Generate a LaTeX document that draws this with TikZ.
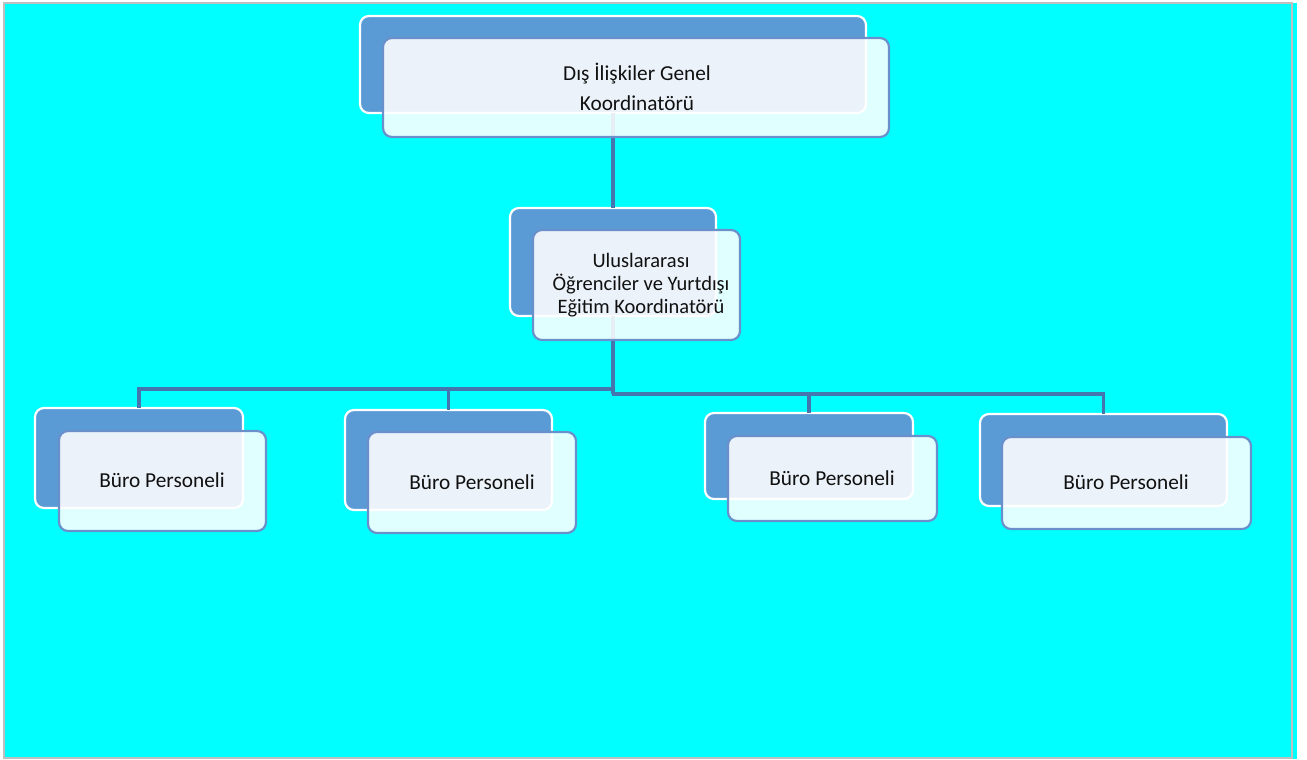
\documentclass[tikz,border=0pt]{standalone}
\usepackage{fontspec}
\setmainfont{Carlito}
\definecolor{bgcyan}{HTML}{00FFFF}
\definecolor{framegray}{HTML}{BFBFBF}
\definecolor{backblue}{HTML}{5B9BD5}
\definecolor{frontedge}{HTML}{6A90CC}
\definecolor{connblue}{HTML}{4676AE}
\definecolor{textblack}{HTML}{111111}
\begin{document}
\begin{tikzpicture}[x=1pt,y=-1pt,
  backbox/.style={draw=white, line width=2.2pt, fill=backblue, rounded corners=9pt, inner sep=0pt, outer sep=0pt},
  frontbox/.style={draw=frontedge, line width=2.2pt, fill=white, fill opacity=0.88, rounded corners=9pt, inner sep=0pt, outer sep=0pt},
  txt/.style={text=textblack, font=\fontsize{21.3}{23}\selectfont, align=center, inner sep=0pt},
  conn/.style={draw=connblue, line width=3.2pt}]
\useasboundingbox (0,0) rectangle (1307,760);
% page and frame
\fill[white] (0,0) rectangle (1307,760);
\fill[bgcyan] (4,3) rectangle (1297,759);
\draw[framegray, line width=2pt] (4,759) -- (4,3) -- (1291.5,3) -- (1291.5,758) -- (4,758);

% back boxes
\node[backbox, minimum width=506pt, minimum height=97pt] (topB) at (613,64.5) {};
\node[backbox, minimum width=206pt, minimum height=108pt] (midB) at (613,262) {};
\node[backbox, minimum width=208pt, minimum height=100pt] (b1B) at (139,458) {};
\node[backbox, minimum width=207pt, minimum height=100pt] (b2B) at (448.5,460) {};
\node[backbox, minimum width=208pt, minimum height=86pt] (b3B) at (809,456) {};
\node[backbox, minimum width=247pt, minimum height=92pt] (b4B) at (1103.5,460) {};

% connectors
\coordinate (jl) at (612,389);
\coordinate (jr) at (612,394);
\draw[conn] (topB.south) -- (midB.north);
\draw[conn] (midB.south) -- (midB.south |- jr);
\draw[conn] (jl) -| (b1B.north);
\draw[conn] (jl) -| (b2B.north);
\draw[conn] (jr) -| (b3B.north);
\draw[conn] (jr) -| (b4B.north);

% front boxes
\node[frontbox, minimum width=506pt, minimum height=99pt] (topF) at (636,87.5) {};
\node[frontbox, minimum width=207pt, minimum height=110pt] (midF) at (636.5,285) {};
\node[frontbox, minimum width=207pt, minimum height=100pt] (b1F) at (162.5,481) {};
\node[frontbox, minimum width=208pt, minimum height=101pt] (b2F) at (472,482.5) {};
\node[frontbox, minimum width=209pt, minimum height=85pt] (b3F) at (832.5,478.5) {};
\node[frontbox, minimum width=249pt, minimum height=92pt] (b4F) at (1126.5,483) {};

% texts
\node[txt, font=\fontsize{21.3}{30}\selectfont] (topT) at (637,87) {Dış İlişkiler Genel\\Koordinatörü};
\node[txt, font=\fontsize{20.5}{23}\selectfont] (midT) at (641,285) {Uluslararası\\Öğrenciler ve Yurtdışı\\Eğitim Koordinatörü};
\node[txt] (b1T) at (162,480) {Büro Personeli};
\node[txt] (b2T) at (472,482) {Büro Personeli};
\node[txt] (b3T) at (832,478) {Büro Personeli};
\node[txt] (b4T) at (1126,482) {Büro Personeli};
\end{tikzpicture}
\end{document}
